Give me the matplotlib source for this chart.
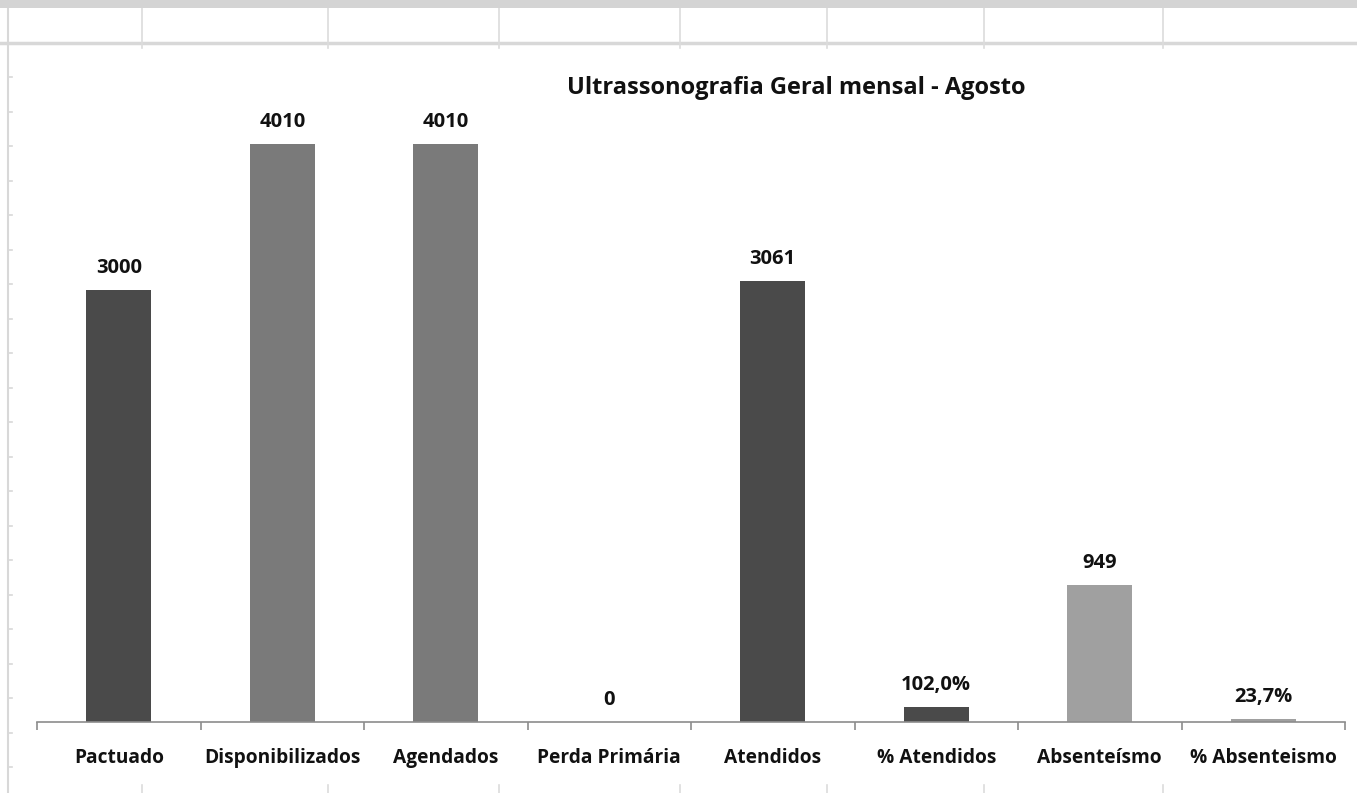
import matplotlib
matplotlib.use("Agg")
import matplotlib.pyplot as plt
from matplotlib.lines import Line2D
from matplotlib.patches import Rectangle

categories = ["Pactuado", "Disponibilizados", "Agendados", "Perda Primária",
              "Atendidos", "% Atendidos", "Absenteísmo", "% Absenteismo"]
values = [3000, 4010, 4010, 0, 3061, 102.0, 949, 23.7]
labels = ["3000", "4010", "4010", "0", "3061", "102,0%", "949", "23,7%"]
colors = ["#4a4a4a", "#7a7a7a", "#7a7a7a", "#4a4a4a", "#4a4a4a", "#4a4a4a", "#a0a0a0", "#a0a0a0"]
title = "Ultrassonografia Geral mensal - Agosto"

plt.rcParams['font.family'] = ['Open Sans', 'DejaVu Sans']

W, H = 1357, 793
fig = plt.figure(figsize=(W / 100, H / 100), dpi=100)
fig.patch.set_facecolor("white")

def fx(px):
    return px / W

def fy(py):
    return 1 - py / H

# spreadsheet background decoration
fig.patches.append(Rectangle((0, fy(8)), 1, 8 / H, transform=fig.transFigure,
                             facecolor="#d4d4d4", edgecolor="none", zorder=0))
fig.lines.append(Line2D([0, 1], [fy(43), fy(43)], transform=fig.transFigure,
                        color="#d8d8d8", lw=2.5, zorder=0))
for xc in [142, 328, 499, 680, 827, 984, 1163]:
    fig.lines.append(Line2D([fx(xc), fx(xc)], [fy(8), fy(48)], transform=fig.transFigure,
                            color="#dcdcdc", lw=1.2, zorder=0))
    fig.lines.append(Line2D([fx(xc), fx(xc)], [fy(785), fy(793)], transform=fig.transFigure,
                            color="#dcdcdc", lw=1.2, zorder=0))
fig.lines.append(Line2D([fx(8), fx(8)], [fy(8), 0], transform=fig.transFigure,
                        color="#d8d8d8", lw=1.5, zorder=0))
yy = 77
while yy < 790:
    fig.lines.append(Line2D([fx(8), fx(12)], [fy(yy), fy(yy)], transform=fig.transFigure,
                            color="#d8d8d8", lw=1.2, zorder=0))
    yy += 34.5

ax = fig.add_axes([fx(37), fy(722), fx(1345) - fx(37), (722 - 46) / H])
ax.set_facecolor("none")
x = list(range(len(categories)))
bars = ax.bar(x, values, width=0.40, color=colors, zorder=2)
ax.set_xlim(-0.5, len(categories) - 0.5)
ax.set_ylim(0, 676 / 0.1441)

for xi, v, lab in zip(x, values, labels):
    ax.annotate(lab, (xi, v), xytext=(0, 8.5), textcoords="offset points",
                ha="center", va="bottom", fontsize=14.5, fontweight="bold", color="#111111")

for s in ["left", "right", "top"]:
    ax.spines[s].set_visible(False)
ax.spines["bottom"].set_color("#8c8c8c")
ax.spines["bottom"].set_linewidth(1.2)
ax.set_yticks([])
ax.set_xticks(x)
ax.set_xticklabels(categories, fontsize=13.8, fontweight="bold", color="#111111")
ax.tick_params(axis="x", which="major", length=0, pad=18.5)
ax.set_xticks([i - 0.5 for i in range(len(categories) + 1)], minor=True)
ax.tick_params(axis="x", which="minor", length=6, color="#8c8c8c", width=1.2)

fig.text(fx(796), fy(88), title, ha="center", va="center", fontsize=17,
         fontweight="bold", color="#111111")

fig.savefig("out.png", dpi=100, facecolor="white")
